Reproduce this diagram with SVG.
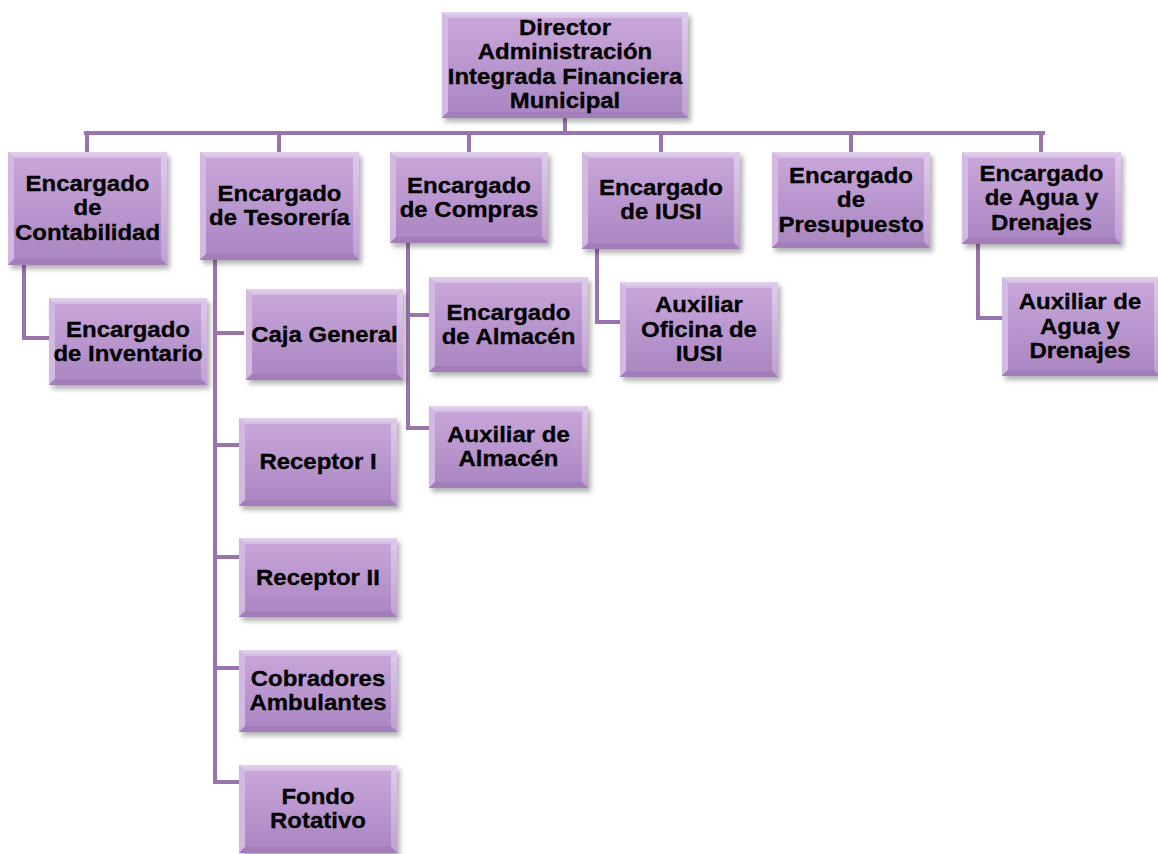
<svg xmlns="http://www.w3.org/2000/svg" width="1158" height="854" viewBox="0 0 1158 854">
  <defs>
    <linearGradient id="faceGrad" x1="0" y1="0" x2="0" y2="1">
      <stop offset="0" stop-color="#caa8db"/>
      <stop offset="1" stop-color="#a985c1"/>
    </linearGradient>
    <linearGradient id="topGrad" x1="0" y1="0" x2="0" y2="1">
      <stop offset="0" stop-color="#e4d3ee"/>
      <stop offset="1" stop-color="#d5bde3"/>
    </linearGradient>
    <linearGradient id="rightGrad" x1="0" y1="0" x2="0" y2="1">
      <stop offset="0" stop-color="#e0cbea"/>
      <stop offset="1" stop-color="#bf9fd2"/>
    </linearGradient>
    <filter id="shadow" x="-10%" y="-10%" width="125%" height="130%">
      <feDropShadow dx="3" dy="4" stdDeviation="2.5" flood-color="#000" flood-opacity="0.3"/>
    </filter>
  </defs>
  <style>
    .face { fill: url(#faceGrad); filter: url(#shadow); }
    .bt { fill: url(#topGrad); }
    .bl { fill: #d3b9e1; }
    .br { fill: url(#rightGrad); }
    .bb { fill: #a27dba; }
    .lbl { font-family: "Liberation Sans", Arial, sans-serif; font-weight: bold; font-size: 22px; fill: #000; stroke: #000; stroke-width: 0.3; text-anchor: middle; }
    .conn { fill: none; stroke: #9a74ad; stroke-width: 4; stroke-linecap: square; }
  </style>
  <rect width="1158" height="854" fill="#ffffff"/>

  <!-- connectors -->
  <g id="connectors">
    <path class="conn" d="M565 118 V133 M86 133 H1043"/>
    <path class="conn" d="M87 133 V152 M279 133 V152 M469 133 V152 M661 133 V152 M851 133 V152 M1041 133 V152"/>
    <path class="conn" d="M24 265 V338 H49"/>
    <path class="conn" d="M215 260 V782 M215 333 H242 M215 445 H239 M215 557 H239 M215 668 H239 M215 782 H239"/>
    <path class="conn" d="M408 243 V428 H429 M408 315 H429"/>
    <path class="conn" d="M597 249 V322 H620"/>
    <path class="conn" d="M978 244 V318 H1002"/>
  </g>

  <!-- Director -->
  <g id="director">
    <rect class="face" x="442" y="12" width="246" height="106"/>
    <path class="bt" d="M442 12 h246 l-6 6 h-234 z"/>
    <path class="bl" d="M442 12 l6 6 v94 l-6 6 z"/>
    <path class="br" d="M688 12 v106 l-6 -6 v-94 z"/>
    <path class="bb" d="M442 118 h246 l-6 -6 h-234 z"/>
    <text class="lbl" transform="translate(565 0) scale(1.09 1)"><tspan x="0" y="35">Director</tspan><tspan x="0" dy="24.5">Administración</tspan><tspan x="0" dy="24.5">Integrada Financiera</tspan><tspan x="0" dy="24.5">Municipal</tspan></text>
  </g>

  <!-- Encargado de Contabilidad -->
  <g id="contabilidad">
    <rect class="face" x="8" y="152" width="159" height="113"/>
    <path class="bt" d="M8 152 h159 l-6 6 h-147 z"/>
    <path class="bl" d="M8 152 l6 6 v101 l-6 6 z"/>
    <path class="br" d="M167 152 v113 l-6 -6 v-101 z"/>
    <path class="bb" d="M8 265 h159 l-6 -6 h-147 z"/>
    <text class="lbl" transform="translate(87.5 0) scale(1.09 1)"><tspan x="0" y="191">Encargado</tspan><tspan x="0" dy="24.5">de</tspan><tspan x="0" dy="24.5">Contabilidad</tspan></text>
  </g>

  <!-- Encargado de Tesorería -->
  <g id="tesoreria">
    <rect class="face" x="200" y="152" width="159" height="108"/>
    <path class="bt" d="M200 152 h159 l-6 6 h-147 z"/>
    <path class="bl" d="M200 152 l6 6 v96 l-6 6 z"/>
    <path class="br" d="M359 152 v108 l-6 -6 v-96 z"/>
    <path class="bb" d="M200 260 h159 l-6 -6 h-147 z"/>
    <text class="lbl" transform="translate(279.5 0) scale(1.09 1)"><tspan x="0" y="201">Encargado</tspan><tspan x="0" dy="24.5">de Tesorería</tspan></text>
  </g>

  <!-- Encargado de Compras -->
  <g id="compras">
    <rect class="face" x="390" y="152" width="158" height="91"/>
    <path class="bt" d="M390 152 h158 l-6 6 h-146 z"/>
    <path class="bl" d="M390 152 l6 6 v79 l-6 6 z"/>
    <path class="br" d="M548 152 v91 l-6 -6 v-79 z"/>
    <path class="bb" d="M390 243 h158 l-6 -6 h-146 z"/>
    <text class="lbl" transform="translate(469 0) scale(1.09 1)"><tspan x="0" y="193">Encargado</tspan><tspan x="0" dy="24.5">de Compras</tspan></text>
  </g>

  <!-- Encargado de IUSI -->
  <g id="iusi">
    <rect class="face" x="582" y="152" width="158" height="97"/>
    <path class="bt" d="M582 152 h158 l-6 6 h-146 z"/>
    <path class="bl" d="M582 152 l6 6 v85 l-6 6 z"/>
    <path class="br" d="M740 152 v97 l-6 -6 v-85 z"/>
    <path class="bb" d="M582 249 h158 l-6 -6 h-146 z"/>
    <text class="lbl" transform="translate(661 0) scale(1.09 1)"><tspan x="0" y="195">Encargado</tspan><tspan x="0" dy="24.5">de IUSI</tspan></text>
  </g>

  <!-- Encargado de Presupuesto -->
  <g id="presupuesto">
    <rect class="face" x="772" y="152" width="158" height="96"/>
    <path class="bt" d="M772 152 h158 l-6 6 h-146 z"/>
    <path class="bl" d="M772 152 l6 6 v84 l-6 6 z"/>
    <path class="br" d="M930 152 v96 l-6 -6 v-84 z"/>
    <path class="bb" d="M772 248 h158 l-6 -6 h-146 z"/>
    <text class="lbl" transform="translate(851 0) scale(1.09 1)"><tspan x="0" y="183">Encargado</tspan><tspan x="0" dy="24.5">de</tspan><tspan x="0" dy="24.5">Presupuesto</tspan></text>
  </g>

  <!-- Encargado de Agua y Drenajes -->
  <g id="agua">
    <rect class="face" x="962" y="152" width="159" height="92"/>
    <path class="bt" d="M962 152 h159 l-6 6 h-147 z"/>
    <path class="bl" d="M962 152 l6 6 v80 l-6 6 z"/>
    <path class="br" d="M1121 152 v92 l-6 -6 v-80 z"/>
    <path class="bb" d="M962 244 h159 l-6 -6 h-147 z"/>
    <text class="lbl" transform="translate(1041.5 0) scale(1.09 1)"><tspan x="0" y="181">Encargado</tspan><tspan x="0" dy="24.5">de Agua y</tspan><tspan x="0" dy="24.5">Drenajes</tspan></text>
  </g>

  <!-- Encargado de Inventario -->
  <g id="inventario">
    <rect class="face" x="49" y="298" width="158" height="87"/>
    <path class="bt" d="M49 298 h158 l-6 6 h-146 z"/>
    <path class="bl" d="M49 298 l6 6 v75 l-6 6 z"/>
    <path class="br" d="M207 298 v87 l-6 -6 v-75 z"/>
    <path class="bb" d="M49 385 h158 l-6 -6 h-146 z"/>
    <text class="lbl" transform="translate(128 0) scale(1.09 1)"><tspan x="0" y="337">Encargado</tspan><tspan x="0" dy="24.5">de Inventario</tspan></text>
  </g>

  <!-- Caja General -->
  <g id="caja-general">
    <rect class="face" x="246" y="289" width="157" height="91"/>
    <path class="bt" d="M246 289 h157 l-6 6 h-145 z"/>
    <path class="bl" d="M246 289 l6 6 v79 l-6 6 z"/>
    <path class="br" d="M403 289 v91 l-6 -6 v-79 z"/>
    <path class="bb" d="M246 380 h157 l-6 -6 h-145 z"/>
    <text class="lbl" transform="translate(324.5 0) scale(1.09 1)"><tspan x="0" y="342">Caja General</tspan></text>
  </g>

  <!-- Receptor I -->
  <g id="receptor-1">
    <rect class="face" x="239" y="418" width="158" height="88"/>
    <path class="bt" d="M239 418 h158 l-6 6 h-146 z"/>
    <path class="bl" d="M239 418 l6 6 v76 l-6 6 z"/>
    <path class="br" d="M397 418 v88 l-6 -6 v-76 z"/>
    <path class="bb" d="M239 506 h158 l-6 -6 h-146 z"/>
    <text class="lbl" transform="translate(318 0) scale(1.09 1)"><tspan x="0" y="469.5">Receptor I</tspan></text>
  </g>

  <!-- Receptor II -->
  <g id="receptor-2">
    <rect class="face" x="239" y="538" width="158" height="79"/>
    <path class="bt" d="M239 538 h158 l-6 6 h-146 z"/>
    <path class="bl" d="M239 538 l6 6 v67 l-6 6 z"/>
    <path class="br" d="M397 538 v79 l-6 -6 v-67 z"/>
    <path class="bb" d="M239 617 h158 l-6 -6 h-146 z"/>
    <text class="lbl" transform="translate(318 0) scale(1.09 1)"><tspan x="0" y="585">Receptor II</tspan></text>
  </g>

  <!-- Cobradores Ambulantes -->
  <g id="cobradores">
    <rect class="face" x="239" y="650" width="158" height="82"/>
    <path class="bt" d="M239 650 h158 l-6 6 h-146 z"/>
    <path class="bl" d="M239 650 l6 6 v70 l-6 6 z"/>
    <path class="br" d="M397 650 v82 l-6 -6 v-70 z"/>
    <path class="bb" d="M239 732 h158 l-6 -6 h-146 z"/>
    <text class="lbl" transform="translate(318 0) scale(1.09 1)"><tspan x="0" y="686">Cobradores</tspan><tspan x="0" dy="24.5">Ambulantes</tspan></text>
  </g>

  <!-- Fondo Rotativo -->
  <g id="fondo-rotativo">
    <rect class="face" x="239" y="765" width="158" height="88"/>
    <path class="bt" d="M239 765 h158 l-6 6 h-146 z"/>
    <path class="bl" d="M239 765 l6 6 v76 l-6 6 z"/>
    <path class="br" d="M397 765 v88 l-6 -6 v-76 z"/>
    <path class="bb" d="M239 853 h158 l-6 -6 h-146 z"/>
    <text class="lbl" transform="translate(318 0) scale(1.09 1)"><tspan x="0" y="804">Fondo</tspan><tspan x="0" dy="24.5">Rotativo</tspan></text>
  </g>

  <!-- Encargado de Almacén -->
  <g id="almacen">
    <rect class="face" x="429" y="277" width="159" height="95"/>
    <path class="bt" d="M429 277 h159 l-6 6 h-147 z"/>
    <path class="bl" d="M429 277 l6 6 v83 l-6 6 z"/>
    <path class="br" d="M588 277 v95 l-6 -6 v-83 z"/>
    <path class="bb" d="M429 372 h159 l-6 -6 h-147 z"/>
    <text class="lbl" transform="translate(508.5 0) scale(1.09 1)"><tspan x="0" y="320">Encargado</tspan><tspan x="0" dy="24.5">de Almacén</tspan></text>
  </g>

  <!-- Auxiliar de Almacén -->
  <g id="auxiliar-almacen">
    <rect class="face" x="429" y="406" width="159" height="82"/>
    <path class="bt" d="M429 406 h159 l-6 6 h-147 z"/>
    <path class="bl" d="M429 406 l6 6 v70 l-6 6 z"/>
    <path class="br" d="M588 406 v82 l-6 -6 v-70 z"/>
    <path class="bb" d="M429 488 h159 l-6 -6 h-147 z"/>
    <text class="lbl" transform="translate(508.5 0) scale(1.09 1)"><tspan x="0" y="442">Auxiliar de</tspan><tspan x="0" dy="24.5">Almacén</tspan></text>
  </g>

  <!-- Auxiliar Oficina de IUSI -->
  <g id="auxiliar-iusi">
    <rect class="face" x="620" y="282" width="158" height="95"/>
    <path class="bt" d="M620 282 h158 l-6 6 h-146 z"/>
    <path class="bl" d="M620 282 l6 6 v83 l-6 6 z"/>
    <path class="br" d="M778 282 v95 l-6 -6 v-83 z"/>
    <path class="bb" d="M620 377 h158 l-6 -6 h-146 z"/>
    <text class="lbl" transform="translate(699 0) scale(1.09 1)"><tspan x="0" y="312.5">Auxiliar</tspan><tspan x="0" dy="24.5">Oficina de</tspan><tspan x="0" dy="24.5">IUSI</tspan></text>
  </g>

  <!-- Auxiliar de Agua y Drenajes -->
  <g id="auxiliar-agua">
    <rect class="face" x="1002" y="277" width="158" height="99"/>
    <path class="bt" d="M1002 277 h158 l-6 6 h-146 z"/>
    <path class="bl" d="M1002 277 l6 6 v87 l-6 6 z"/>
    <path class="br" d="M1160 277 v99 l-6 -6 v-87 z"/>
    <path class="bb" d="M1002 376 h158 l-6 -6 h-146 z"/>
    <text class="lbl" transform="translate(1080 0) scale(1.09 1)"><tspan x="0" y="309.5">Auxiliar de</tspan><tspan x="0" dy="24.5">Agua y</tspan><tspan x="0" dy="24.5">Drenajes</tspan></text>
  </g>
</svg>
